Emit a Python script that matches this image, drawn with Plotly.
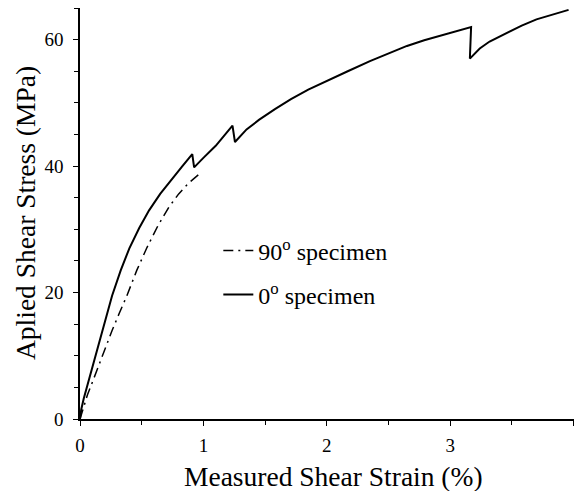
import plotly.graph_objects as go

# 0 degree specimen (solid)
strain_0 = [0, 0.01, 0.03, 0.05, 0.08, 0.11, 0.14, 0.19, 0.26, 0.33, 0.40, 0.48,
            0.56, 0.65, 0.75, 0.83, 0.91, 0.925, 1.0, 1.1, 1.236, 1.256, 1.35,
            1.45, 1.58, 1.71, 1.85, 2.0, 2.17, 2.35, 2.52, 2.65, 2.79, 2.95,
            3.08, 3.17, 3.16, 3.24, 3.32, 3.45, 3.58, 3.7, 3.83, 3.96]
stress_0 = [0, 1.5, 3.2, 4.6, 6.5, 8.7, 10.9, 14.6, 19.5, 23.5, 27.0, 30.2,
            33.0, 35.6, 38.1, 40.0, 41.9, 39.8, 41.3, 43.2, 46.4, 43.8, 45.8,
            47.3, 49.0, 50.6, 52.1, 53.5, 55.0, 56.6, 58.0, 59.0, 59.9, 60.8,
            61.5, 62.0, 57.0, 58.6, 59.7, 61.0, 62.2, 63.2, 64.0, 64.7]

# 90 degree specimen (dash-dot)
strain_90 = [0, 0.03, 0.06, 0.10, 0.17, 0.26, 0.32, 0.38, 0.46, 0.54, 0.63,
             0.72, 0.80, 0.88, 0.97]
stress_90 = [0, 1.8, 3.8, 5.8, 9.5, 14.0, 16.8, 19.5, 23.5, 27.0, 30.5,
             33.5, 35.6, 37.3, 38.8]

x_ticks = [0, 1, 2, 3, 4]
y_ticks = [0, 20, 40, 60]

FONT = "Liberation Serif"

fig = go.Figure()
fig.add_trace(go.Scatter(x=strain_90, y=stress_90, mode="lines",
                         name="90<sup>o</sup> specimen", showlegend=True,
                         line=dict(color="black", width=1.5, dash="10px,5px,2px,5px"),
                         legend="legend"))
fig.add_trace(go.Scatter(x=strain_0, y=stress_0, mode="lines",
                         name="0<sup>o</sup> specimen", showlegend=True,
                         line=dict(color="black", width=2),
                         legend="legend2"))

legend_common = dict(font=dict(family=FONT, size=24, color="black"),
                     bgcolor="rgba(0,0,0,0)", borderwidth=0,
                     xanchor="left", yanchor="middle", itemwidth=30)

fig.update_layout(
    width=574, height=491,
    showlegend=True,
    margin=dict(l=80, r=0, t=8, b=72),
    paper_bgcolor="white", plot_bgcolor="white",
    font=dict(family=FONT, color="black"),
    legend=dict(x=0.28, y=1 - (251 - 8) / 411, **legend_common),
    legend2=dict(x=0.28, y=1 - (295 - 8) / 411, **legend_common),
    xaxis=dict(range=[0, 4.004], tickvals=x_ticks, ticktext=[str(v) for v in x_ticks],
               ticks="outside", ticklen=5, tickwidth=1, tickcolor="black",
               showline=True, linecolor="black", linewidth=1.5,
               showgrid=False, zeroline=False, automargin=False,
               tickfont=dict(family=FONT, size=19), ticklabelstandoff=3,
               minor=dict(dtick=0.5, ticks="outside", ticklen=4, tickcolor="black")),
    yaxis=dict(range=[0, 65], tickvals=y_ticks, ticktext=[str(v) for v in y_ticks],
               ticks="outside", ticklen=5, tickwidth=1, tickcolor="black",
               showline=True, linecolor="black", linewidth=1.5,
               showgrid=False, zeroline=False, automargin=False,
               tickfont=dict(family=FONT, size=19), ticklabelstandoff=6,
               minor=dict(dtick=5, ticks="outside", ticklen=4, tickcolor="black")),
    annotations=[
        dict(text="Measured Shear Strain (%)", xref="paper", yref="paper",
             x=(333 - 80) / 494, y=-(476 - 419) / 411, xanchor="center", yanchor="middle",
             showarrow=False, font=dict(family=FONT, size=27.5, color="black")),
        dict(text="Aplied Shear Stress (MPa)", xref="paper", yref="paper",
             x=(26 - 80) / 494, y=1 - (213 - 8) / 411, xanchor="center", yanchor="middle",
             textangle=-90, showarrow=False, font=dict(family=FONT, size=27.5, color="black")),
    ],
)

fig.write_html("out.html", config={"displayModeBar": False},
               post_script="document.body.style.margin='0';document.body.style.overflow='hidden';")
